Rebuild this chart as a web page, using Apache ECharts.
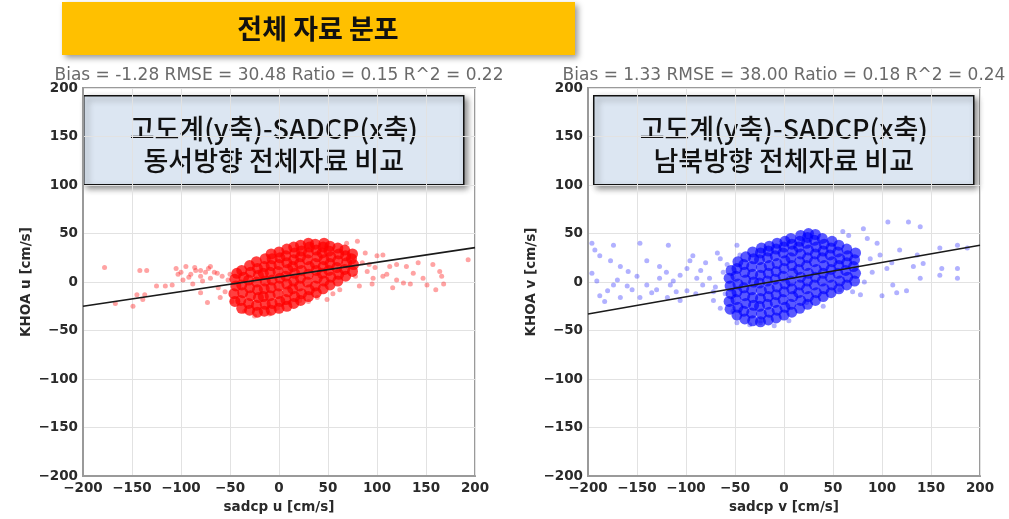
<!DOCTYPE html>
<html>
<head>
<meta charset="utf-8">
<script src="https://cdn.jsdelivr.net/npm/echarts@6/dist/echarts.min.js"></script>
<style>
  html, body { margin: 0; padding: 0; background: #fff; }
  #chart { width: 1009px; height: 519px; }
</style>
</head>
<body>
<div id="chart"></div>
<script>
// Axis ticks shared by both panels (cm/s)
const axisTicks = [-200, -150, -100, -50, 0, 50, 100, 150, 200];

// Statistics printed above each panel
const uStats = 'Bias = -1.28 RMSE = 30.48 Ratio = 0.15 R^2 = 0.22';
const vStats = 'Bias = 1.33 RMSE = 38.00 Ratio = 0.18 R^2 = 0.24';

// Fitted regression lines, end points at the axis limits
const uFit = [[-200, -25], [200, 35.5]];
const vFit = [[-200, -33], [200, 38]];

// East-west (u) component: sparse outlying pairs [sadcp, KHOA]
const uSparse = [
  [-178, 15], [-142, 12], [-135, 12], [-167, -22], [-149, -25], [-145, -13], [-137, -13], [-139, -18],
  [-125, -4], [-116, -4], [-109, -3], [-105, 14], [-100, 10], [-95, 16], [-90, 8], [-85, 12], [-80, 6],
  [-98, 2], [-88, -2], [-75, 10], [-70, 4], [-80, 12], [-72, 14], [-66, 10], [-70, 16], [-63, 9],
  [-73, -21], [-60, -16], [-80, -11], [-92, 5], [-103, 8], [-86, 15], [-78, 1], [-62, -6], [-55, -10],
  [-52, 2], [-58, 6], [-48, -20], [-50, 8],
  [100, 27], [106, 28], [113, 16], [120, 18], [130, 16], [137, 9], [134, -2], [147, 4], [151, -3],
  [157, 18], [164, 11], [166, 6], [168, -2], [193, 23], [96, 4], [106, 6], [90, 11], [120, 2], [127, -1],
  [21, -19], [39, -16], [49, -18], [11, -21], [-2, -27], [80, 42], [69, 40], [85, 20], [88, 30], [92, 18],
  [78, 6], [82, -4], [95, -2], [62, -8], [55, -12], [-10, -33], [-25, -35], [-35, -30], [30, -20],
  [98, 15], [110, 8], [142, 20], [160, -8], [116, -6]
];

// East-west (u) component: dense central cloud
const uCore = [
  [-45, -20], [-46, -12], [-44, -4], [-45, 3], [-43, 9],
  [-38, -27], [-39, -19], [-37, -11], [-38, -3], [-36, 5], [-38, 12],
  [-30, -29], [-31, -22], [-29, -14], [-30, -6], [-31, 2], [-29, 10], [-30, 17],
  [-22, -31], [-23, -24], [-21, -16], [-22, -8], [-23, 0], [-21, 7], [-22, 14], [-23, 21],
  [-15, -30], [-14, -23], [-16, -15], [-15, -7], [-14, 1], [-16, 9], [-15, 16], [-14, 24],
  [-8, -29], [-7, -22], [-9, -14], [-8, -6], [-7, 2], [-9, 10], [-8, 17], [-7, 24], [-8, 29],
  [0, -27], [1, -20], [-1, -12], [0, -4], [1, 4], [-1, 11], [0, 18], [1, 25], [0, 31],
  [8, -25], [7, -18], [9, -10], [8, -2], [7, 6], [9, 13], [8, 20], [7, 27], [8, 34],
  [15, -22], [16, -15], [14, -7], [15, 1], [16, 9], [14, 16], [15, 23], [16, 30], [15, 36],
  [22, -19], [23, -12], [21, -4], [22, 4], [23, 12], [21, 19], [22, 26], [23, 32], [22, 38],
  [30, -15], [31, -8], [29, 0], [30, 8], [31, 16], [29, 23], [30, 30], [31, 36], [30, 40],
  [38, -11], [37, -4], [39, 4], [38, 12], [37, 19], [39, 26], [38, 33], [37, 39],
  [45, -7], [46, 1], [44, 9], [45, 16], [46, 23], [44, 30], [45, 36], [46, 40],
  [52, -3], [53, 5], [51, 12], [52, 19], [53, 26], [51, 32], [52, 37],
  [60, 1], [61, 8], [59, 15], [60, 22], [61, 29], [60, 35],
  [68, 6], [67, 13], [69, 20], [68, 27], [67, 33],
  [75, 11], [76, 18], [74, 24], [75, 29]
];

// North-south (v) component: sparse outlying pairs [sadcp, KHOA]
const vSparse = [
  [-196, 40], [-193, 33], [-174, 38], [-147, 40], [-118, 38], [-188, 27], [-177, 22], [-167, 16],
  [-159, 11], [-150, 6], [-196, 9], [-191, 1], [-188, -14], [-180, -9], [-174, -3], [-167, -16],
  [-160, -4], [-140, -3], [-135, -11], [-127, 16], [-127, 4], [-116, -3], [-113, 1], [-106, 7],
  [-99, 14], [-96, 22], [-93, 27], [-89, 4], [-99, -9], [-147, -16], [-119, -16], [-106, -19],
  [-83, -3], [-76, 4], [-68, 30], [-65, 24], [-48, 38], [-45, 28], [-72, -19], [-65, -27],
  [-48, -42], [-35, -44], [-24, -42],
  [-155, -8], [-130, -8], [-120, 10], [-110, -10], [-85, 12], [-80, 20], [-70, -5], [-62, 10],
  [-60, -12], [-58, 18], [-72, -10], [-90, -12], [-140, 22], [-183, -20], [-170, 2],
  [106, 62], [127, 62], [139, 57], [81, 55], [95, 40], [118, 33], [136, 28], [142, 19], [132, 16],
  [159, 35], [177, 38], [161, 14], [177, 14], [177, 4], [159, 7], [111, -3], [115, -11], [125, -9],
  [78, -13], [100, -14], [57, -8], [23, -21], [-24, -40], [105, 14], [88, 24], [139, 4], [187, 35],
  [85, 45], [90, 10], [98, 28], [110, 20], [82, 0], [70, -10], [66, 48], [60, 52], [-10, -45],
  [5, -40], [40, -25], [-52, -30]
];

// North-south (v) component: dense central cloud
const vCore = [
  [-55, -28], [-56, -20], [-54, -12], [-55, -4], [-56, 4], [-54, 12],
  [-48, -34], [-47, -26], [-49, -18], [-48, -10], [-47, -2], [-49, 6], [-48, 14], [-47, 21],
  [-40, -38], [-41, -30], [-39, -22], [-40, -14], [-41, -6], [-39, 2], [-40, 10], [-41, 18], [-39, 26],
  [-32, -40], [-33, -32], [-31, -24], [-32, -16], [-33, -8], [-31, 0], [-32, 8], [-33, 16], [-31, 24], [-32, 31],
  [-24, -41], [-23, -33], [-25, -25], [-24, -17], [-23, -9], [-25, -1], [-24, 7], [-23, 15], [-25, 23], [-24, 30], [-23, 35],
  [-16, -39], [-15, -31], [-17, -23], [-16, -15], [-15, -7], [-17, 1], [-16, 9], [-15, 17], [-17, 25], [-16, 32], [-15, 37],
  [-8, -37], [-7, -29], [-9, -21], [-8, -13], [-7, -5], [-9, 3], [-8, 11], [-7, 19], [-9, 27], [-8, 34], [-7, 40],
  [0, -34], [1, -26], [-1, -18], [0, -10], [1, -2], [-1, 6], [0, 14], [1, 22], [-1, 30], [0, 36], [1, 42],
  [8, -31], [7, -23], [9, -15], [8, -7], [7, 1], [9, 9], [8, 17], [7, 25], [9, 32], [8, 39], [7, 45],
  [16, -27], [17, -19], [15, -11], [16, -3], [17, 5], [15, 13], [16, 21], [17, 29], [15, 36], [16, 42], [17, 48],
  [24, -23], [25, -15], [23, -7], [24, 1], [25, 9], [23, 17], [24, 25], [25, 33], [23, 40], [24, 46], [25, 50],
  [32, -19], [33, -11], [31, -3], [32, 5], [33, 13], [31, 21], [32, 29], [33, 36], [31, 43], [32, 49],
  [40, -15], [41, -7], [39, 1], [40, 9], [41, 17], [39, 25], [40, 32], [41, 39], [39, 45],
  [48, -11], [49, -3], [47, 5], [48, 13], [49, 21], [47, 28], [48, 35], [49, 42],
  [56, -7], [57, 1], [55, 9], [56, 17], [57, 24], [55, 31], [56, 38],
  [64, -3], [65, 5], [63, 12], [64, 20], [65, 27], [64, 34],
  [72, 1], [73, 9], [71, 16], [72, 23], [73, 30]
];

const chart = echarts.init(document.getElementById('chart'), null, { renderer: 'canvas' });

const tickFont = { fontFamily: 'DejaVu Sans', fontSize: 13.5, fontWeight: 'bold', color: '#2a2a2a' };
const nameFont = { fontFamily: 'DejaVu Sans', fontSize: 13.5, fontWeight: 'bold', color: '#2a2a2a' };
const minus = v => String(v).replace('-', '\u2212');
const tMin = axisTicks[0], tMax = axisTicks[axisTicks.length - 1], tStep = axisTicks[1] - axisTicks[0];

function axisFor(idx, name, gap) {
  return {
    gridIndex: idx, type: 'value', min: tMin, max: tMax, interval: tStep,
    name: name, nameLocation: 'middle', nameGap: gap, nameTextStyle: nameFont,
    axisLine: { show: true, onZero: false, lineStyle: { color: '#9a9a9a', width: 2 } },
    axisTick: { show: false },
    axisLabel: Object.assign({ margin: 5, formatter: minus }, tickFont),
    splitLine: { show: true, lineStyle: { color: '#e2e2e2', width: 1 } }
  };
}

function scatter(idx, data, color, size, opacity) {
  return {
    type: 'scatter', xAxisIndex: idx, yAxisIndex: idx, data: data,
    symbolSize: size, silent: true,
    itemStyle: { color: color, opacity: opacity, borderWidth: 0 }
  };
}
function fitLine(idx, data) {
  return {
    type: 'line', xAxisIndex: idx, yAxisIndex: idx, data: data, z: 5,
    symbol: 'none', silent: true,
    lineStyle: { color: '#1a1a1a', width: 1.6 }
  };
}

function noteBox(x, lines) {
  const textStyle = t => ({ text: t, align: 'center', verticalAlign: 'middle',
    fontFamily: 'Noto Sans CJK KR', fontSize: 27, fontWeight: 500, fill: '#111' });
  return {
    type: 'group', left: x, top: 95, z: 100,
    children: [
      {
        type: 'rect', shape: { x: 0, y: 0, width: 380, height: 89 },
        style: {
          fill: '#dce6f2', stroke: '#111', lineWidth: 1.5,
          shadowBlur: 6, shadowOffsetX: 3, shadowOffsetY: 3, shadowColor: 'rgba(0,0,0,0.45)'
        }
      },
      { type: 'text', x: 190, y: 33, style: textStyle(lines[0]) },
      { type: 'text', x: 190, y: 65, style: textStyle(lines[1]) }
    ]
  };
}

function statsText(cx, text) {
  return {
    type: 'text', x: cx, y: 76, z: 90,
    style: { text: text, align: 'center', verticalAlign: 'middle',
             fontFamily: 'DejaVu Sans', fontSize: 17, fill: '#6a6a6a' }
  };
}

chart.setOption({
  animation: false,
  backgroundColor: '#ffffff',
  grid: [
    { left: 83, top: 88, width: 392, height: 393, show: true, borderColor: '#9a9a9a', borderWidth: 2, backgroundColor: 'transparent' },
    { left: 588, top: 88, width: 392, height: 393, show: true, borderColor: '#9a9a9a', borderWidth: 2, backgroundColor: 'transparent' }
  ],
  xAxis: [axisFor(0, 'sadcp u [cm/s]', 21), axisFor(1, 'sadcp v [cm/s]', 21)],
  yAxis: [axisFor(0, 'KHOA u [cm/s]', 50), axisFor(1, 'KHOA v [cm/s]', 50)],
  series: [
    scatter(0, uSparse, '#ff1a1a', 5, 0.4),
    scatter(0, uCore, '#ff0000', 11, 0.75),
    fitLine(0, uFit),
    scatter(1, vSparse, '#2020ff', 5, 0.35),
    scatter(1, vCore, '#0000ff', 11, 0.65),
    fitLine(1, vFit)
  ],
  graphic: [
    statsText(279, uStats),
    statsText(784, vStats),
    {
      type: 'group', left: 62, top: 2, z: 100,
      children: [
        {
          type: 'rect', shape: { x: 0, y: 0, width: 513, height: 53 },
          style: { fill: '#ffc000', shadowBlur: 6, shadowOffsetX: 3, shadowOffsetY: 3, shadowColor: 'rgba(0,0,0,0.4)' }
        },
        {
          type: 'text', x: 256, y: 27,
          style: { text: '전체 자료 분포', align: 'center', verticalAlign: 'middle',
                   fontFamily: 'Noto Sans CJK KR', fontSize: 27, fontWeight: 'bold', fill: '#111' }
        }
      ]
    },
    noteBox(83, ['고도계(y축)-SADCP(x축)', '동서방향 전체자료 비교']),
    noteBox(593, ['고도계(y축)-SADCP(x축)', '남북방향 전체자료 비교'])
  ]
});
</script>
</body>
</html>
